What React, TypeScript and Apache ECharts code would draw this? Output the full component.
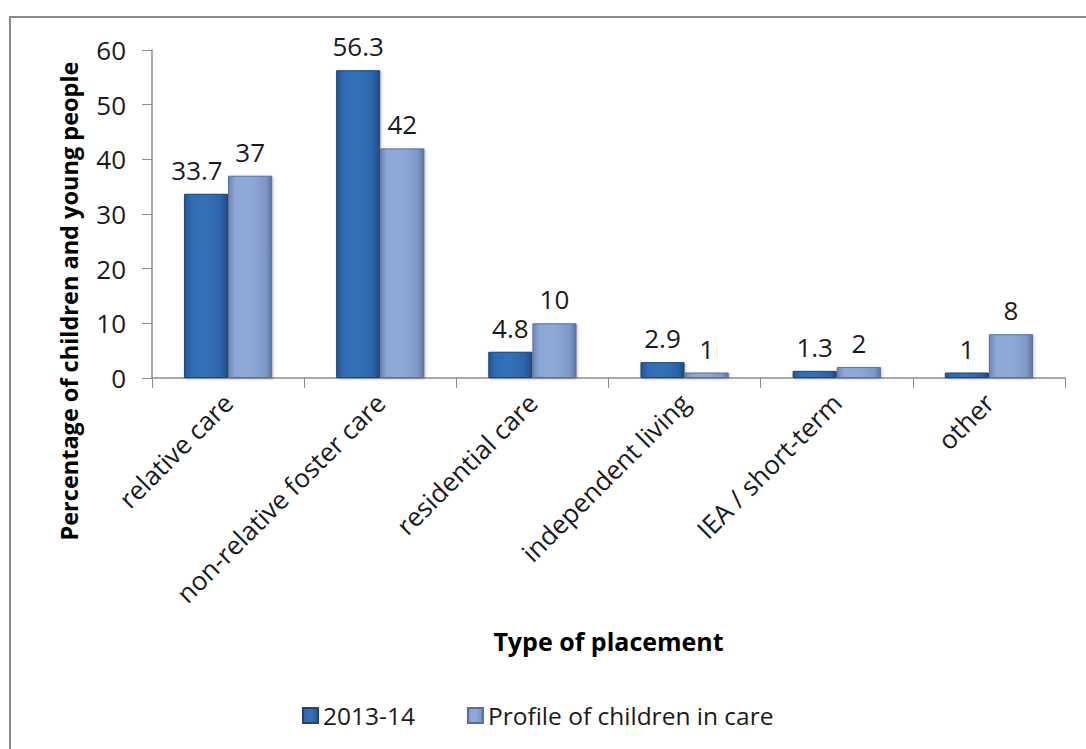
import React, { useEffect, useRef } from "react";
import * as echarts from "echarts";

const categories = [
  "relative care",
  "non-relative foster care",
  "residential care",
  "independent living",
  "IEA / short-term",
  "other",
];
const series2013 = [33.7, 56.3, 4.8, 2.9, 1.3, 1];
const seriesProfile = [37, 42, 10, 1, 2, 8];
const yTicks = [0, 10, 20, 30, 40, 50, 60];

const FONT = "'Open Sans', 'Noto Sans', sans-serif";

const darkFill = new echarts.graphic.LinearGradient(0, 0, 1, 0, [
  { offset: 0, color: "#24548f" },
  { offset: 0.15, color: "#2f6cb3" },
  { offset: 0.5, color: "#3471b8" },
  { offset: 0.85, color: "#2c63a8" },
  { offset: 1, color: "#1f4a80" },
]);
const lightFill = new echarts.graphic.LinearGradient(0, 0, 1, 0, [
  { offset: 0, color: "#6f86b3" },
  { offset: 0.15, color: "#8ca6d6" },
  { offset: 0.5, color: "#8fa9d8" },
  { offset: 0.85, color: "#8099c8" },
  { offset: 1, color: "#5f769f" },
]);

export default function App() {
  const ref = useRef<HTMLDivElement>(null);

  useEffect(() => {
    if (!ref.current) return;
    const chart = echarts.init(ref.current, null, { renderer: "svg" });
    const labelStyle = {
      show: true,
      position: "top" as const,
      distance: 11,
      fontFamily: FONT,
      fontSize: 26,
      color: "#1a1a1a",
    };
    // the first dark label sits a little left so it clears its neighbour
    const data2013 = series2013.map((v, i) =>
      i === 0 ? { value: v, label: { offset: [-9, 0] } } : v
    );
    chart.setOption({
      animation: false,
      backgroundColor: "#ffffff",
      textStyle: { fontFamily: FONT },
      grid: { left: 152, right: 21, top: 50, bottom: 371, containLabel: false },
      legend: {
        bottom: 16,
        left: 297,
        itemWidth: 15,
        itemHeight: 15,
        itemGap: 52,
        icon: "rect",
        textStyle: { fontFamily: FONT, fontSize: 24.5, color: "#1a1a1a" },
        data: ["2013-14", "Profile of children in care"],
      },
      xAxis: {
        type: "category",
        data: categories,
        name: "Type of placement",
        nameLocation: "middle",
        nameGap: 250,
        nameTextStyle: { fontFamily: FONT, fontSize: 25, fontWeight: "bold", color: "#000" },
        axisLine: { lineStyle: { color: "#8c8c8c", width: 1.5 } },
        axisTick: { show: true, length: 10, lineStyle: { color: "#8c8c8c" } },
        axisLabel: {
          rotate: 45,
          margin: 20,
          fontFamily: FONT,
          fontSize: 26,
          color: "#1a1a1a",
        },
      },
      yAxis: {
        type: "value",
        min: 0,
        max: 60,
        interval: 10,
        axisLine: { show: true, lineStyle: { color: "#8c8c8c", width: 1.5 } },
        axisTick: { show: true, length: 10, lineStyle: { color: "#8c8c8c" } },
        splitLine: { show: false },
        axisLabel: {
          margin: 26,
          fontFamily: FONT,
          fontSize: 26,
          color: "#1a1a1a",
          formatter: (v: number) => (yTicks.includes(v) ? String(v) : ""),
        },
      },
      series: [
        {
          name: "2013-14",
          type: "bar",
          data: data2013,
          barGap: "0%",
          barCategoryGap: "42%",
          itemStyle: {
            color: darkFill,
            borderColor: "#1d4677",
            borderWidth: 1,
            shadowColor: "rgba(0,0,0,0.25)",
            shadowBlur: 3,
            shadowOffsetX: 1,
            shadowOffsetY: 1,
          },
          label: labelStyle,
        },
        {
          name: "Profile of children in care",
          type: "bar",
          data: seriesProfile,
          itemStyle: {
            color: lightFill,
            borderColor: "#5a6f95",
            borderWidth: 1,
            shadowColor: "rgba(0,0,0,0.25)",
            shadowBlur: 3,
            shadowOffsetX: 1,
            shadowOffsetY: 1,
          },
          label: labelStyle,
        },
      ],
      graphic: [
        {
          type: "rect",
          shape: { x: 10, y: 17, width: 1100, height: 760 },
          style: { fill: "none", stroke: "#8a8a8a", lineWidth: 2 },
          silent: true,
        },
        {
          type: "text",
          x: 69,
          y: 301,
          rotation: Math.PI / 2,
          style: {
            text: "Percentage of children and young people",
            fontFamily: FONT,
            fontSize: 23.5,
            fontWeight: "bold",
            fill: "#000",
            align: "center",
            verticalAlign: "middle",
          },
        },
      ],
    });
    return () => chart.dispose();
  }, []);

  return <div ref={ref} style={{ width: 1086, height: 749, position: "absolute", left: 0, top: 0 }} />;
}
